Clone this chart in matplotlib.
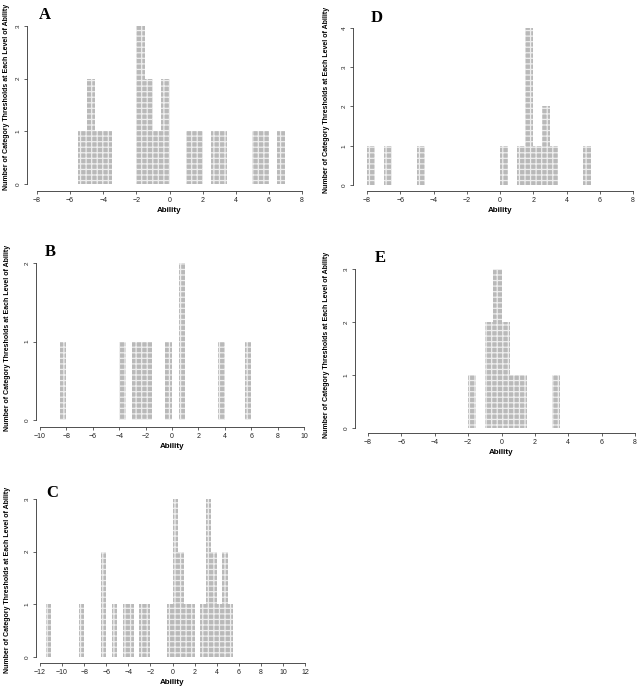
import matplotlib
matplotlib.use("Agg")
import matplotlib.pyplot as plt
import numpy as np

plt.rcParams['font.family'] = ['Liberation Sans', 'DejaVu Sans']
plt.rcParams['hatch.linewidth'] = 0.9

BIN = 0.5
# left bin edges and counts for each panel
A_left = [-5.5, -5.0, -4.5, -4.0, -2.0, -1.5, -1.0, -0.5, 1.0, 1.5, 2.5, 3.0, 5.0, 5.5, 6.5]
A_count = [1, 2, 1, 1, 3, 2, 1, 2, 1, 1, 1, 1, 1, 1, 1]

B_left = [-8.5, -4.0, -3.0, -2.5, -2.0, -0.5, 0.5, 3.5, 5.5]
B_count = [1, 1, 1, 1, 1, 1, 2, 1, 1]

C_left = [-11.5, -8.5, -6.5, -5.5, -4.5, -4.0, -3.0, -2.5, -0.5, 0.0, 0.5, 1.0, 1.5,
          2.5, 3.0, 3.5, 4.0, 4.5, 5.0]
C_count = [1, 1, 2, 1, 1, 1, 1, 1, 1, 3, 2, 1, 1, 1, 3, 2, 1, 2, 1]

D_left = [-8.0, -7.0, -5.0, 0.0, 1.0, 1.5, 2.0, 2.5, 3.0, 5.0]
D_count = [1, 1, 1, 1, 1, 4, 1, 2, 1, 1]

E_left = [-2.0, -1.0, -0.5, 0.0, 0.5, 1.0, 3.0]
E_count = [1, 2, 3, 2, 1, 1, 1]

W, H = 637, 689
fig = plt.figure(figsize=(W / 100, H / 100), dpi=100)

YLAB = "Number of Category Thresholds at Each Level of Ability"


def panel(letter, lefts, counts, xr, xpx, ymax, ypx, yaxis_x, xaxis_y, letter_xy, ylab_xy):
    x0, x1 = xpx
    ytop, ybot = ypx
    ax = fig.add_axes([x0 / W, (H - ybot) / H, (x1 - x0) / W, (ybot - ytop) / H])
    ax.set_xlim(*xr)
    ax.set_ylim(0, ymax)
    ax.patch.set_alpha(0)
    for s in ['top', 'right']:
        ax.spines[s].set_visible(False)
    ax.spines['left'].set_position(('outward', (x0 - yaxis_x) * 0.72))
    ax.spines['bottom'].set_position(('outward', (xaxis_y - ybot) * 0.72))
    for s in ['left', 'bottom']:
        ax.spines[s].set_linewidth(0.6)
        ax.spines[s].set_color('#333333')
    ax.bar(lefts, counts, width=BIN, align='edge', color='#b9b9b9',
           edgecolor='#eeeeee', linewidth=0, hatch='+++', clip_on=False)
    ax.set_xticks(np.arange(xr[0], xr[1] + 1, 2))
    ax.set_yticks(np.arange(0, ymax + 1, 1))
    ax.tick_params(axis='both', length=2.5, width=0.5, colors='#222222', pad=2)
    ax.tick_params(axis='x', labelsize=5.0)
    ax.tick_params(axis='y', labelsize=4.6)
    for t in ax.get_yticklabels():
        t.set_rotation(90)
        t.set_va('center')
    ax.set_xlabel("Ability", fontsize=5.8, fontweight='bold', labelpad=2)
    fig.text(letter_xy[0] / W, 1 - letter_xy[1] / H, letter, family='Liberation Serif',
             fontsize=12, fontweight='bold', ha='center', va='center')
    fig.text(ylab_xy[0] / W, 1 - ylab_xy[1] / H, YLAB, rotation=90,
             fontsize=5.0, fontweight='bold', ha='center', va='center')
    return ax


panel('A', A_left, A_count, (-8, 8), (37, 302), 3, (26, 184), 27, 191, (45, 15), (7, 97))
panel('D', D_left, D_count, (-8, 8), (367, 633), 4, (28, 185), 353, 191, (377, 18), (326, 100))
panel('B', B_left, B_count, (-10, 10), (40, 304), 2, (263, 420), 36, 427, (50, 252), (8, 338))
panel('E', E_left, E_count, (-8, 8), (368, 635), 3, (269, 428), 355, 433, (380, 258), (327, 345))
panel('C', C_left, C_count, (-12, 12), (40, 305), 3, (499, 657), 36, 663, (52, 493), (8, 580))

fig.savefig("out.png", dpi=100)
